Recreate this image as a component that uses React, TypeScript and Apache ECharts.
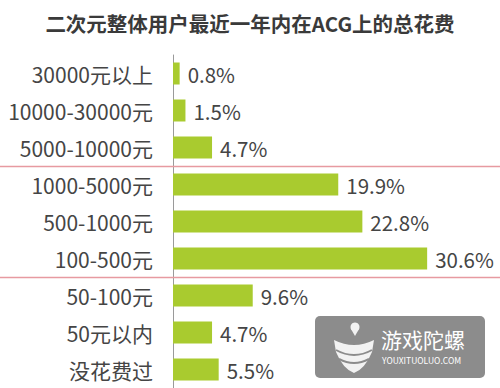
import React, { useEffect, useRef } from "react";
import * as echarts from "echarts";

const titleText = "二次元整体用户最近一年内在ACG上的总花费";
const categories = [
  "30000元以上",
  "10000-30000元",
  "5000-10000元",
  "1000-5000元",
  "500-1000元",
  "100-500元",
  "50-100元",
  "50元以内",
  "没花费过",
];
const values = [0.8, 1.5, 4.7, 19.9, 22.8, 30.6, 9.6, 4.7, 5.5];
// separator lines drawn after these category indices
const separatorsAfter = [2, 5];

const FONT = '"Noto Sans CJK SC", "Noto Sans", sans-serif';

export default function App() {
  const ref = useRef<HTMLDivElement>(null);
  useEffect(() => {
    if (!ref.current) return;
    const chart = echarts.init(ref.current, null, { renderer: "svg" });
    chart.setOption({
      animation: false,
      backgroundColor: "#ffffff",
      title: {
        text: titleText,
        left: "center",
        top: 8,
        textStyle: { fontFamily: FONT, fontSize: 20.5, fontWeight: "bold", color: "#3a3a3a" },
      },
      grid: { left: 173, right: 28, top: 55, bottom: 0, containLabel: false },
      xAxis: {
        type: "value",
        min: 0,
        max: 36,
        show: false,
      },
      yAxis: {
        type: "category",
        data: categories,
        inverse: true,
        axisLine: { show: true, lineStyle: { color: "#9a9a9a", width: 1 } },
        axisTick: { show: false },
        axisLabel: { fontFamily: FONT, fontSize: 21, color: "#454545", margin: 20 },
        splitLine: { show: false },
      },
      series: [
        {
          type: "bar",
          data: values,
          barWidth: 22,
          itemStyle: { color: "#a9cb2f" },
          label: {
            show: true,
            position: "right",
            distance: 8,
            formatter: (p: any) => p.value.toFixed(1) + "%",
            fontFamily: FONT,
            fontSize: 20.5,
            color: "#454545",
          },
        },
      ],
    });

    const graphics: any[] = [];
    separatorsAfter.forEach((i) => {
      const y1 = chart.convertToPixel({ yAxisIndex: 0 }, i) as number;
      const y2 = chart.convertToPixel({ yAxisIndex: 0 }, i + 1) as number;
      const y = Math.round((y1 + y2) / 2) + 0.5;
      graphics.push({
        type: "line",
        shape: { x1: 0, y1: y, x2: 500, y2: y },
        style: { stroke: "#e79aa1", lineWidth: 1.5 },
        z: 10,
      });
    });

    echarts.graphic.registerShape(
      "bowlLogo",
      echarts.graphic.extendPath(
        "M0,4 Q20,14 40,4 L38,16 Q31,33 20,37 Q9,33 2,16 Z",
        {}
      ) as any
    );

    graphics.push({
      type: "group",
      z: 20,
      children: [
        {
          type: "rect",
          shape: { x: 315, y: 316, width: 170, height: 62, r: 5 },
          style: { fill: "#8c8c8c" },
        },
        { type: "bowlLogo", x: 334, y: 336, scaleX: 1, scaleY: 1, style: { fill: "#f2f2f2" } },
        {
          type: "bezierCurve",
          shape: { x1: 336, y1: 350, x2: 372, y2: 350, cpx1: 354, cpy1: 360 },
          style: { stroke: "#8c8c8c", lineWidth: 2, fill: null },
        },
        {
          type: "bezierCurve",
          shape: { x1: 339, y1: 359, x2: 369, y2: 359, cpx1: 354, cpy1: 367 },
          style: { stroke: "#8c8c8c", lineWidth: 2, fill: null },
        },
        { type: "circle", shape: { cx: 355, cy: 327, r: 4.5 }, style: { fill: "#f2f2f2" } },
        {
          type: "polygon",
          shape: { points: [[350.7, 328.5], [359.3, 328.5], [355, 336]] },
          style: { fill: "#f2f2f2" },
        },
        {
          type: "text",
          x: 381,
          y: 339,
          style: {
            text: "游戏陀螺",
            fontFamily: FONT,
            fontSize: 21,
            lineHeight: 21,
            fill: "#ffffff",
            verticalAlign: "middle",
            align: "left",
          },
        },
        {
          type: "text",
          x: 382,
          y: 360,
          style: {
            text: "YOUXITUOLUO.COM",
            fontFamily: FONT,
            fontSize: 8.5,
            lineHeight: 9,
            fill: "#ffffff",
            verticalAlign: "middle",
            align: "left",
          },
        },
      ],
    });

    chart.setOption({ graphic: graphics });
    return () => chart.dispose();
  }, []);
  return <div ref={ref} style={{ width: 500, height: 388, position: "absolute", left: 0, top: 0 }} />;
}
